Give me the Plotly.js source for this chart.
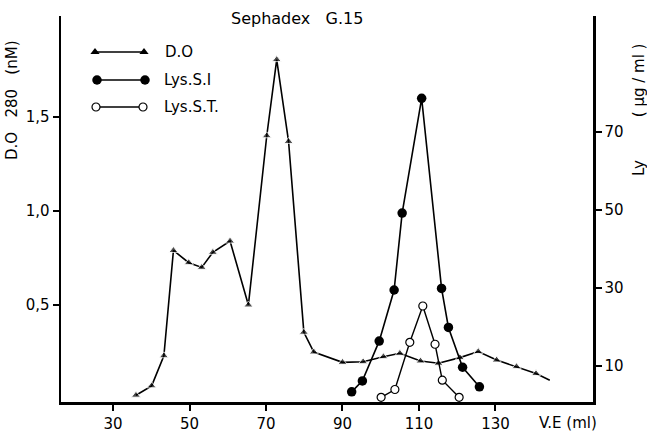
<!DOCTYPE html>
<html>
<head>
<meta charset="utf-8">
<script src="https://cdn.plot.ly/plotly-3.0.1.min.js"></script>
<style>html,body{margin:0;padding:0;background:#fff;}#chart{width:647px;height:434px;}</style>
</head>
<body>
<div id="chart"></div>
<script>
// D.O 280 (left axis)
const doVE = [36.0, 40.1, 43.3, 45.8, 49.8, 53.2, 56.1, 60.6, 65.4, 70.2, 72.8, 75.9, 79.9, 82.5, 90.0, 95.4, 100.7, 105.0, 110.4, 115.1, 120.7, 125.5, 130.3, 135.5, 140.6, 144.2];
const doVal = [0.02, 0.07, 0.23, 0.79, 0.725, 0.70, 0.78, 0.84, 0.50, 1.40, 1.805, 1.37, 0.355, 0.25, 0.195, 0.198, 0.225, 0.243, 0.202, 0.19, 0.22, 0.252, 0.207, 0.172, 0.135, 0.10];
// Lys.S.I (right axis, µg/ml)
const lsiVE = [92.4, 95.2, 99.6, 103.5, 105.6, 110.7, 115.9, 117.7, 121.4, 125.8];
const lsiVal = [3.4, 6.2, 16.4, 29.5, 49.2, 78.6, 29.9, 19.9, 9.7, 4.7];
// Lys.S.T (right axis, µg/ml)
const lstVE = [100.1, 103.7, 107.6, 111.0, 114.2, 116.1, 120.5];
const lstVal = [2.0, 4.0, 16.1, 25.4, 15.6, 6.4, 2.0];
// tick labels
const xTicks = [30, 50, 70, 90, 110, 130];
const yTicks = [0.5, 1.0, 1.5];
const yTickText = ['0,5', '1,0', '1,5'];
const y2Ticks = [10, 30, 50, 70];
const legendNames = ['D.O', 'Lys.S.I', 'Lys.S.T.'];

const FONT = 'DejaVu Sans, sans-serif';
const doSizes = doVE.map((v, i) => i === doVE.length - 1 ? 0 : 8);

const traces = [
  {x: doVE, y: doVal, type: 'scatter', mode: 'lines+markers', xaxis: 'x', yaxis: 'y',
   line: {color: '#000', width: 1.6}, marker: {symbol: 'triangle-up', size: doSizes, color: '#000'}, showlegend: false},
  {x: lsiVE, y: lsiVal, type: 'scatter', mode: 'lines+markers', xaxis: 'x', yaxis: 'y2',
   line: {color: '#000', width: 1.6}, marker: {symbol: 'circle', size: 9.5, color: '#000'}, showlegend: false},
  {x: lstVE, y: lstVal, type: 'scatter', mode: 'lines+markers', xaxis: 'x', yaxis: 'y2',
   line: {color: '#000', width: 1.4}, marker: {symbol: 'circle', size: 8, color: '#fff', line: {color: '#000', width: 1.2}}, showlegend: false},
  // legend keys (pixel-space overlay axes)
  {x: [95, 144], y: [52, 52], type: 'scatter', mode: 'lines+markers', xaxis: 'x2', yaxis: 'y3',
   line: {color: '#000', width: 1.6}, marker: {symbol: 'triangle-up', size: 8, color: '#000'}, showlegend: false, hoverinfo: 'skip'},
  {x: [97, 145], y: [80, 80], type: 'scatter', mode: 'lines+markers', xaxis: 'x2', yaxis: 'y3',
   line: {color: '#000', width: 1.6}, marker: {symbol: 'circle', size: 9.5, color: '#000'}, showlegend: false, hoverinfo: 'skip'},
  {x: [96, 143], y: [107, 107], type: 'scatter', mode: 'lines+markers', xaxis: 'x2', yaxis: 'y3',
   line: {color: '#000', width: 1.4}, marker: {symbol: 'circle', size: 8, color: '#fff', line: {color: '#000', width: 1.2}}, showlegend: false, hoverinfo: 'skip'}
];

const axisCommon = {showline: true, linecolor: '#000', linewidth: 2.5, ticks: 'outside', ticklen: 6, tickwidth: 2,
  tickcolor: '#000', showgrid: false, zeroline: false, tickfont: {family: FONT, size: 15, color: '#000'}};

const layout = {
  width: 647, height: 434,
  margin: {l: 61, r: 54, t: 16, b: 32, pad: 0},
  paper_bgcolor: '#fff', plot_bgcolor: '#fff',
  showlegend: false,
  xaxis: Object.assign({}, axisCommon, {range: [16.4, 155.5], tickvals: xTicks, ticktext: xTicks.map(String)}),
  yaxis: Object.assign({}, axisCommon, {range: [-0.016, 2.037], tickvals: yTicks, ticktext: yTickText}),
  yaxis2: Object.assign({}, axisCommon, {range: [0.8, 99.7], tickvals: y2Ticks, ticktext: y2Ticks.map(String), overlaying: 'y', side: 'right', anchor: 'x'}),
  xaxis2: {overlaying: 'x', range: [61, 593], visible: false, fixedrange: true},
  yaxis3: {overlaying: 'y', range: [402, 16], visible: false, fixedrange: true, anchor: 'x2'},
  annotations: [
    {text: 'Sephadex&nbsp;&nbsp;&nbsp;G.15', x: 297, y: 18, xanchor: 'center', showarrow: false,
     font: {family: FONT, size: 16, color: '#000'}},
    {text: 'V.E (ml)', x: 568, y: 423, xanchor: 'center', showarrow: false, font: {family: FONT, size: 15, color: '#000'}},
    {text: 'D.O&nbsp;&nbsp;&nbsp;280&nbsp;&nbsp;&nbsp;(nM)', x: 12, y: 100, xanchor: 'center', textangle: -90, showarrow: false, font: {family: FONT, size: 15, color: '#000'}},
    {text: 'Ly&nbsp;&nbsp;&nbsp;&nbsp;&nbsp;&nbsp;&nbsp;&nbsp;&nbsp;(&nbsp;μg&nbsp;/&nbsp;ml&nbsp;)', x: 639, y: 110, xanchor: 'center', textangle: -90, showarrow: false, font: {family: FONT, size: 15, color: '#000'}},
    {text: legendNames[0], x: 163, y: 52, xanchor: 'left', showarrow: false, font: {family: FONT, size: 15, color: '#000'}},
    {text: legendNames[1], x: 162, y: 80, xanchor: 'left', showarrow: false, font: {family: FONT, size: 15, color: '#000'}},
    {text: legendNames[2], x: 162, y: 107, xanchor: 'left', showarrow: false, font: {family: FONT, size: 15, color: '#000'}}
  ]
};
// convert pixel-positioned annotations to paper coordinates
layout.annotations.forEach(a => {
  a.xref = 'paper'; a.yref = 'paper'; a.yanchor = 'middle';
  a.x = (a.x - 61) / (647 - 61 - 54);
  a.y = (434 - 32 - a.y) / (434 - 16 - 32);
});

Plotly.newPlot('chart', traces, layout, {displayModeBar: false, staticPlot: true});
</script>
</body>
</html>
